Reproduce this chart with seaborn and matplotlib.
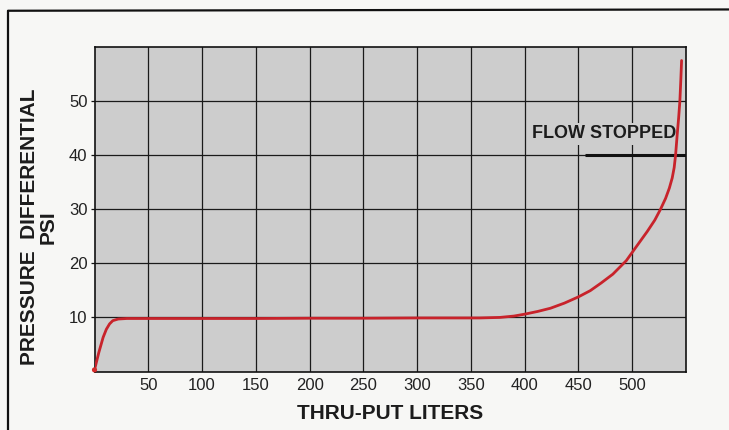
import matplotlib.pyplot as plt
import seaborn as sns
import pandas as pd
from matplotlib.lines import Line2D

# values
liters = [0, 4, 8, 11, 14, 17, 22, 30, 50, 100, 150, 200, 250, 300, 358, 377, 390,
          400, 412, 424, 437, 450, 461, 471, 482, 494.5, 503.5, 514, 521, 526.3, 531,
          534.5, 537.2, 539, 540.3, 541.9, 543.2, 544.3, 545.2, 545.9]
psi = [0.3, 3.5, 6.3, 7.8, 8.8, 9.4, 9.7, 9.8, 9.8, 9.8, 9.8, 9.85, 9.85, 9.9, 9.9, 10.0, 10.25,
       10.6, 11.1, 11.7, 12.65, 13.8, 14.95, 16.35, 18.0, 20.5, 23.0, 25.9, 28.0, 30.0, 32.0,
       33.9, 35.8, 37.7, 40.0, 44.0, 47.0, 50.0, 54.0, 57.5]
x_ticks = [50, 100, 150, 200, 250, 300, 350, 400, 450, 500]
y_ticks = [10, 20, 30, 40, 50]
stop_psi = 40
stop_from = 456

df = pd.DataFrame({'liters': liters, 'psi': psi})

sns.set_style('ticks')
plt.rcParams['font.family'] = ['Liberation Sans', 'DejaVu Sans']

fig = plt.figure(figsize=(7.29, 4.30), dpi=100, facecolor='#f7f7f5')
ax = fig.add_axes([94.5 / 729, 1 - 371.5 / 430, 591.5 / 729, 324.5 / 430])
ax.set_facecolor('#cdcdcd')

sns.lineplot(data=df, x='liters', y='psi', sort=False, estimator=None,
             color='#c8232b', linewidth=2, ax=ax, zorder=4)
sns.scatterplot(data=df.iloc[:1], x='liters', y='psi', color='#d42a2a', s=14,
                edgecolor='none', ax=ax, zorder=5, clip_on=False)

# flow stopped marker
ax.plot([stop_from, 550], [stop_psi, stop_psi], color='#111111', linewidth=2.2, zorder=3,
        solid_capstyle='butt')
ax.text(540.5, 43.1, 'FLOW STOPPED', ha='right', va='baseline', fontsize=13,
        fontweight='bold', color='#1c1c1c', zorder=3,
        bbox=dict(boxstyle='square,pad=0.15', facecolor='#cdcdcd', edgecolor='none'))

ax.set_xlim(0, 550)
ax.set_ylim(0, 60)
ax.set_xticks(x_ticks)
ax.set_yticks(y_ticks)
ax.grid(True, color='#1a1a1a', linewidth=0.9)
ax.set_axisbelow(True)
for s in ax.spines.values():
    s.set_color('#111111')
    s.set_linewidth(1.2)

ax.tick_params(axis='x', length=0, pad=5, labelsize=12, labelcolor='#222222')
ax.tick_params(axis='y', length=3, width=0.9, color='#111111', pad=2, labelsize=12,
               labelcolor='#222222')

ax.set_xlabel('THRU-PUT LITERS', fontsize=15, fontweight='bold', color='#1c1c1c')
ax.xaxis.set_label_coords(0.5, -0.1)
ax.xaxis.label.set_va('top')
ax.set_ylabel('PRESSURE  DIFFERENTIAL\nPSI', fontsize=15, fontweight='bold',
              color='#1c1c1c', linespacing=1.0)
ax.yaxis.set_label_coords(-0.062, 0.445)

# scanned page frame (left and top edges)
fig.add_artist(Line2D([0.011, 0.011], [0, 0.975], color='#111111', linewidth=1.6))
fig.add_artist(Line2D([0.011, 1.0], [0.975, 0.978], color='#111111', linewidth=1.6))

fig.savefig('out.png', dpi=100, facecolor=fig.get_facecolor())
plt.close()
